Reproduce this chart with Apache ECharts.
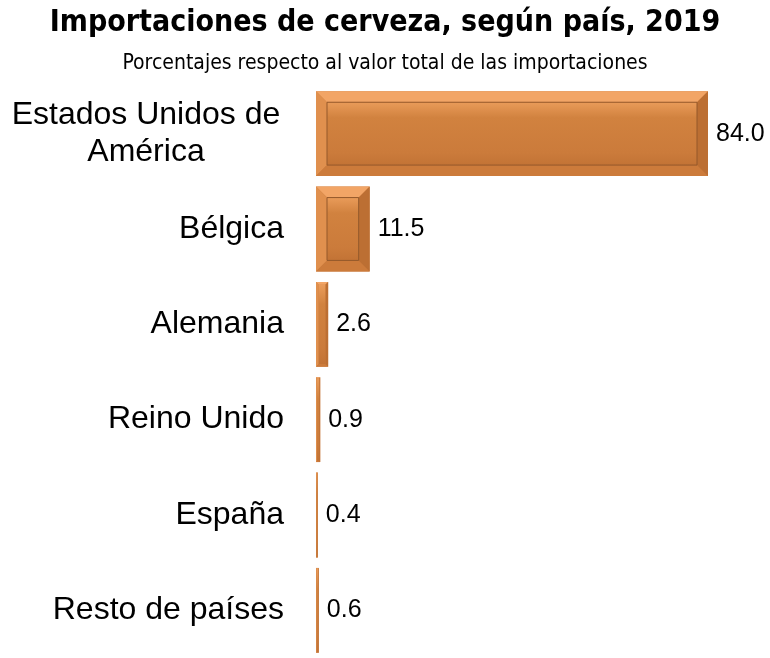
<!DOCTYPE html>
<html><head><meta charset="utf-8">
<script src="https://cdn.jsdelivr.net/npm/echarts@6/dist/echarts.min.js"></script>
<style>html,body{margin:0;padding:0;background:#fff}#c{width:770px;height:658px}</style>
</head><body><div id="c"></div>
<script>
const categories = ['Estados Unidos de América', 'Bélgica', 'Alemania', 'Reino Unido', 'España', 'Resto de países'];
const values = [84.0, 11.5, 2.6, 0.9, 0.4, 0.6];
const titleText = 'Importaciones de cerveza, según país, 2019';
const subtitleText = 'Porcentajes respecto al valor total de las importaciones';

const chart = echarts.init(document.getElementById('c'));
const BAR_RATIO = 0.89;
function bevel(params, api) {
  const v = api.value(0), idx = api.value(1);
  const p0 = api.coord([0, idx]);
  const p1 = api.coord([v, idx]);
  const h = api.size([0, 1])[1] * BAR_RATIO;
  const x0 = p0[0], x1 = p1[0], y0 = p0[1] - h / 2, y1 = p0[1] + h / 2;
  const w = x1 - x0;
  const b = Math.min(11, w / 2 * 0.45, h / 2);
  const ix0 = x0 + b, ix1 = x1 - b, iy0 = y0 + b, iy1 = y1 - b;
  const children = [
    {type:'polygon', shape:{points:[[x0,y0],[x1,y0],[ix1,iy0],[ix0,iy0]]}, style:{fill:'#F2A566'}},
    {type:'polygon', shape:{points:[[x0,y0],[ix0,iy0],[ix0,iy1],[x0,y1]]}, style:{fill:'#E0904E'}},
    {type:'polygon', shape:{points:[[x0,y1],[ix0,iy1],[ix1,iy1],[x1,y1]]}, style:{fill:'#CC7B3B'}},
    {type:'polygon', shape:{points:[[x1,y0],[x1,y1],[ix1,iy1],[ix1,iy0]]}, style:{fill:'#BC6F33'}},
    {type:'rect', shape:{x:ix0, y:iy0, width:Math.max(ix1-ix0,0), height:Math.max(iy1-iy0,0)},
      style:{fill:new echarts.graphic.LinearGradient(0,0,0,1,[{offset:0,color:'#EA9C5A'},{offset:0.25,color:'#D1823F'},{offset:0.8,color:'#CB7B3B'},{offset:1,color:'#C27335'}]),
        stroke: w > 30 ? '#94592B' : null, lineWidth: 1}}
  ];
  return {type:'group', children};
}

chart.setOption({
  animation: false,
  title: [
    {text: titleText, left: 'center', top: 3,
      textStyle:{fontFamily:'DejaVu Sans Condensed', fontWeight:'bold', fontSize:30, color:'#000'}},
    {text: subtitleText, left: 'center', top: 48,
      textStyle:{fontFamily:'DejaVu Sans Condensed', fontWeight:'normal', fontSize:21, color:'#000'}}
  ],
  grid: {left: 316, right: 62, top: 86, bottom: 0, containLabel: false},
  xAxis: {type:'value', min:0, max:84, show:false},
  yAxis: {type:'category', data:categories, inverse:true,
    axisLine:{show:false}, axisTick:{show:false},
    axisLabel:{margin:32, color:'#000', fontFamily:'Liberation Sans, Arial', fontSize:32,
      formatter: function(v){ return v === 'Estados Unidos de América' ? '{c|Estados Unidos de}\n{c|América}' : v; },
      rich:{c:{width:276, align:'center', fontSize:32, lineHeight:37, fontFamily:'Liberation Sans, Arial', color:'#000'}}}
  },
  series: [
    {type:'bar', data:values, barCategoryGap:'11%', itemStyle:{color:'#C97A3C'},
      label:{show:true, position:'right', distance:8, formatter: p => p.value.toFixed(1),
        color:'#000', fontFamily:'Liberation Sans, Arial', fontSize:25}},
    {type:'custom', renderItem: bevel, silent:true, z:3,
      data: values.map((v,i)=>[v,i]), encode:{x:0, y:1}}
  ]
});
</script></body></html>
